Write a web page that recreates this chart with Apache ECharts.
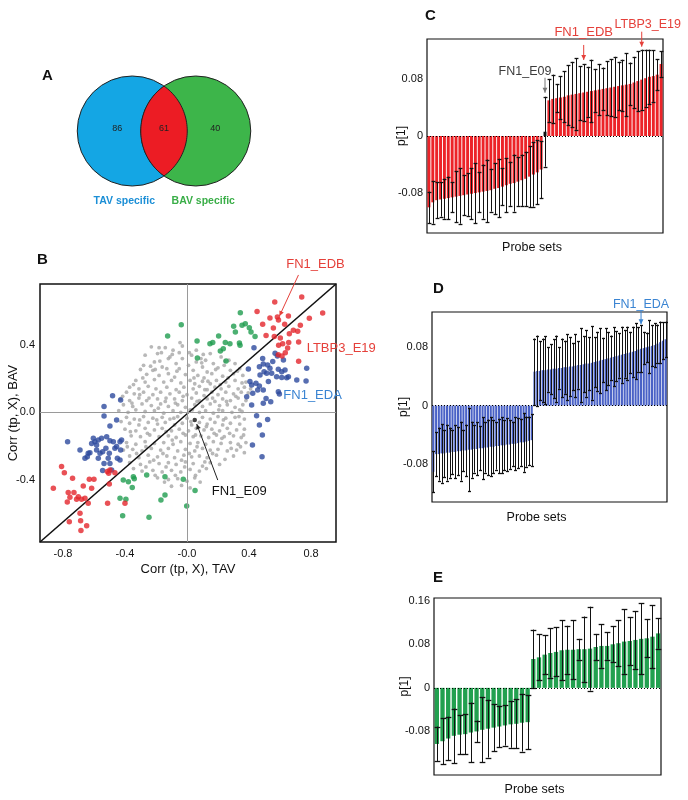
<!DOCTYPE html>
<html><head><meta charset="utf-8">
<script src="https://cdn.jsdelivr.net/npm/echarts@6/dist/echarts.min.js"></script>
<style>html,body{margin:0;padding:0;background:#fff}#c{width:688px;height:800px}</style>
</head><body><div id="c"></div><script>
// ---------------- DATA ----------------
const vennLabels = ['TAV specific', 'BAV specific'];
const vennCounts = [86, 61, 40]; // TAV only, shared, BAV only

const scatterGray = [
[-0.23,0.39],[-0.18,0.385],[-0.14,0.385],[-0.03,0.395],[0.06,0.37],[-0.09,0.37],
[-0.27,0.34],[-0.19,0.35],[-0.11,0.33],[-0.05,0.355],[0.03,0.34],[0.09,0.32],[0.15,0.35],[0.22,0.33],
[-0.12,0.32],[-0.03,0.32],[0.12,0.31],[0.27,0.31],
[-0.28,0.28],[-0.21,0.3],[-0.16,0.27],[-0.07,0.29],[0.01,0.28],[0.06,0.3],[0.1,0.27],[0.17,0.29],[0.24,0.28],[0.31,0.29],
[-0.3,0.255],[-0.22,0.25],[-0.13,0.26],[-0.05,0.26],[0.04,0.25],[0.13,0.24],[0.2,0.265],[0.28,0.25],[0.34,0.26],
[-0.26,0.226],[-0.18,0.22],[-0.12,0.23],[-0.08,0.21],[-0.01,0.225],[0.07,0.22],[0.11,0.205],[0.16,0.23],[0.23,0.215],[0.3,0.23],[0.36,0.22],
[-0.33,0.19],[-0.27,0.18],[-0.21,0.195],[-0.15,0.18],[-0.1,0.19],[-0.04,0.175],[0.02,0.19],[0.05,0.17],[0.1,0.185],[0.15,0.17],[0.19,0.19],[0.25,0.18],[0.31,0.19],[0.38,0.18],
[-0.37,0.15],[-0.31,0.14],[-0.25,0.155],[-0.2,0.14],[-0.13,0.15],[-0.07,0.135],[-0.02,0.15],[0.04,0.14],[0.08,0.155],[0.13,0.135],[0.18,0.15],[0.22,0.14],[0.27,0.155],[0.33,0.14],[0.37,0.15],[0.41,0.14],
[-0.39,0.12],[-0.34,0.11],[-0.28,0.12],[-0.22,0.105],[-0.17,0.12],[-0.11,0.11],[-0.05,0.12],[0.0,0.105],[0.06,0.115],[0.11,0.1],[0.16,0.12],[0.2,0.105],[0.25,0.12],[0.3,0.11],[0.35,0.12],
[-0.43,0.08],[-0.37,0.07],[-0.31,0.085],[-0.26,0.07],[-0.19,0.08],[-0.14,0.065],[-0.08,0.08],[-0.03,0.07],[0.03,0.085],[0.08,0.07],[0.13,0.08],[0.18,0.065],[0.23,0.08],[0.28,0.07],[0.33,0.085],[0.38,0.07],
[-0.41,0.045],[-0.35,0.035],[-0.29,0.05],[-0.23,0.04],[-0.17,0.05],[-0.12,0.035],[-0.06,0.045],[-0.01,0.03],[0.05,0.045],[0.1,0.035],[0.15,0.05],[0.21,0.04],[0.26,0.045],[0.31,0.03],[0.36,0.045],
[-0.44,0.01],[-0.38,0.0],[-0.33,0.015],[-0.27,0.005],[-0.21,0.01],[-0.15,-0.005],[-0.09,0.01],[-0.04,0.0],[0.02,0.015],[0.08,0.0],[0.12,0.01],[0.17,-0.005],[0.23,0.01],[0.29,0.0],[0.34,0.015],
[-0.39,-0.03],[-0.34,-0.04],[-0.28,-0.025],[-0.22,-0.035],[-0.16,-0.03],[-0.11,-0.04],[-0.06,-0.025],[0.0,-0.035],[0.1,-0.03],[0.15,-0.04],[0.2,-0.025],[0.25,-0.035],[0.31,-0.03],[0.37,-0.04],
[-0.37,-0.065],[-0.31,-0.075],[-0.25,-0.06],[-0.19,-0.07],[-0.14,-0.06],[-0.08,-0.075],[-0.03,-0.065],[0.03,-0.075],[0.08,-0.06],[0.13,-0.07],[0.18,-0.06],[0.23,-0.075],[0.28,-0.065],[0.34,-0.07],
[-0.4,-0.1],[-0.33,-0.11],[-0.27,-0.095],[-0.21,-0.105],[-0.16,-0.095],[-0.1,-0.11],[-0.05,-0.1],[0.01,-0.11],[0.06,-0.095],[0.11,-0.105],[0.16,-0.1],[0.21,-0.11],[0.26,-0.095],[0.32,-0.105],[0.37,-0.1],
[-0.36,-0.14],[-0.3,-0.145],[-0.24,-0.135],[-0.18,-0.145],[-0.12,-0.14],[-0.07,-0.15],[-0.01,-0.135],[0.04,-0.145],[0.09,-0.14],[0.14,-0.15],[0.19,-0.135],[0.24,-0.145],[0.3,-0.14],[0.35,-0.15],
[-0.39,-0.18],[-0.33,-0.19],[-0.27,-0.175],[-0.21,-0.185],[-0.15,-0.18],[-0.09,-0.19],[-0.04,-0.175],[0.02,-0.185],[0.07,-0.18],[0.12,-0.19],[0.17,-0.175],[0.22,-0.185],[0.28,-0.18],[0.33,-0.19],[0.38,-0.18],
[-0.41,-0.225],[-0.35,-0.22],[-0.29,-0.23],[-0.23,-0.215],[-0.17,-0.225],[-0.12,-0.215],[-0.06,-0.23],[-0.01,-0.22],[0.05,-0.23],[0.1,-0.215],[0.15,-0.225],[0.2,-0.22],[0.26,-0.23],[0.32,-0.225],[0.37,-0.24],
[-0.37,-0.26],[-0.31,-0.27],[-0.25,-0.255],[-0.19,-0.265],[-0.13,-0.26],[-0.08,-0.27],[-0.02,-0.255],[0.03,-0.265],[0.08,-0.26],[0.13,-0.27],[0.19,-0.255],[0.245,-0.28],[0.3,-0.26],
[-0.37,-0.3],[-0.3,-0.31],[-0.24,-0.295],[-0.18,-0.305],[-0.12,-0.3],[-0.07,-0.31],[-0.01,-0.295],[0.04,-0.305],[0.1,-0.32],[0.15,-0.3],[0.21,-0.31],
[-0.29,-0.35],[-0.22,-0.345],[-0.16,-0.355],[-0.1,-0.345],[-0.04,-0.355],[0.02,-0.34],[0.08,-0.35],
[-0.19,-0.39],[-0.12,-0.4],[-0.06,-0.395],[0.0,-0.41],[0.05,-0.39],
[-0.1,-0.44],[0.02,-0.45],
[-0.345,0.165],[-0.285,0.205],[-0.235,0.275],[-0.175,0.305],[-0.095,0.345],[-0.065,0.245],[0.015,0.355],[0.045,0.205],[0.095,0.295],[0.135,0.185],[0.185,0.255],[0.215,0.165],[0.265,0.205],[0.325,0.245],[0.355,0.175],[0.395,0.115],
[-0.415,0.095],[-0.355,0.055],[-0.305,0.105],[-0.245,0.085],[-0.185,0.025],[-0.135,0.085],[-0.075,0.055],[-0.025,0.095],[0.035,0.015],[0.065,0.065],[0.115,0.135],[0.165,0.085],[0.205,0.015],[0.255,0.065],[0.315,0.095],[0.355,0.005],
[-0.425,-0.055],[-0.365,-0.115],[-0.305,-0.045],[-0.255,-0.125],[-0.195,-0.045],[-0.135,-0.115],[-0.085,-0.035],[-0.025,-0.125],[0.025,-0.055],[0.055,-0.135],[0.125,-0.085],[0.175,-0.125],[0.235,-0.045],[0.275,-0.125],[0.335,-0.025],[0.365,-0.135],
[-0.385,-0.205],[-0.325,-0.245],[-0.265,-0.205],[-0.215,-0.285],[-0.155,-0.245],[-0.095,-0.165],[-0.035,-0.285],[0.015,-0.245],[0.065,-0.205],[0.115,-0.295],[0.165,-0.245],[0.225,-0.155],[0.285,-0.215],[0.345,-0.205],
[-0.345,-0.335],[-0.265,-0.325],[-0.205,-0.375],[-0.135,-0.325],[-0.075,-0.375],[-0.015,-0.325],[0.055,-0.375],[0.125,-0.335],[-0.145,-0.415],[-0.035,-0.435],[0.085,-0.415],
[-0.165,0.355],[-0.045,0.415],[0.105,0.345],[-0.205,0.255],[0.245,0.305]
];
const scatterBlue = [
[0.432,0.385],[0.488,0.321],[0.568,0.351],[0.583,0.335],[0.492,0.288],[0.52,0.282],[0.467,0.272],[0.535,0.262],
[0.589,0.256],[0.632,0.252],[0.654,0.212],[0.708,0.192],[0.768,0.187],[0.772,0.262],[0.578,0.212],[0.611,0.208],
[0.643,0.206],[0.396,0.258],[0.406,0.183],[0.445,0.173],[0.467,0.157],[0.492,0.133],[0.51,0.083],[0.54,0.063],
[0.589,0.123],[0.596,0.109],[0.417,0.044],[0.449,-0.02],[0.467,-0.075],[0.486,-0.135],[0.422,-0.194],[0.484,-0.264],
[0.52,-0.042],[0.385,0.093],[0.424,0.113],[0.456,0.133],[0.492,0.054],[0.514,0.232],[0.546,0.232],[0.471,0.222],
[0.553,0.302],[0.622,0.312],[0.497,0.242],[0.611,0.242],[0.525,0.183],[0.417,0.163],
[-0.48,0.099],[-0.535,0.034],[-0.535,-0.022],[-0.497,-0.081],[-0.454,-0.046],[-0.428,0.073],[-0.77,-0.175],[-0.69,-0.224],
[-0.637,-0.244],[-0.604,-0.155],[-0.594,-0.175],[-0.572,-0.165],[-0.551,-0.155],[-0.518,-0.145],[-0.497,-0.169],[-0.475,-0.175],
[-0.432,-0.175],[-0.422,-0.165],[-0.583,-0.194],[-0.583,-0.224],[-0.561,-0.244],[-0.572,-0.274],[-0.544,-0.234],[-0.523,-0.214],
[-0.501,-0.244],[-0.508,-0.274],[-0.497,-0.304],[-0.535,-0.304],[-0.544,-0.347],[-0.486,-0.343],[-0.449,-0.274],[-0.432,-0.284],
[-0.428,-0.224],[-0.465,-0.214],[-0.643,-0.264],[-0.626,-0.24],[-0.658,-0.274],[-0.615,-0.185],[-0.454,-0.204]
];
const scatterGreen = [
[-0.037,0.521],[-0.125,0.454],[0.065,0.425],[0.067,0.323],[0.148,0.409],[0.166,0.415],[0.204,0.454],[0.215,0.365],
[0.234,0.379],[0.252,0.306],[0.247,0.415],[0.277,0.409],[0.301,0.512],[0.312,0.478],[0.344,0.593],[0.355,0.518],
[0.376,0.528],[0.402,0.504],[0.413,0.478],[0.338,0.413],[0.342,0.399],[0.439,0.452],
[-0.411,-0.403],[-0.378,-0.413],[-0.346,-0.383],[-0.353,-0.448],[-0.34,-0.395],[-0.432,-0.512],[-0.394,-0.518],[-0.415,-0.615],
[-0.26,-0.373],[-0.245,-0.625],[-0.168,-0.522],[-0.142,-0.383],[-0.142,-0.492],[-0.024,-0.399],[-0.002,-0.558],[0.052,-0.466]
];
const scatterRed = [
[0.74,0.687],[0.566,0.657],[0.452,0.601],[0.875,0.591],[0.789,0.56],[0.654,0.573],[0.583,0.567],[0.535,0.562],
[0.59,0.55],[0.488,0.524],[0.63,0.524],[0.731,0.518],[0.686,0.488],[0.557,0.502],[0.714,0.482],[0.51,0.458],
[0.563,0.452],[0.66,0.468],[0.602,0.442],[0.617,0.409],[0.72,0.419],[0.656,0.415],[0.591,0.399],[0.649,0.383],
[0.589,0.343],[0.634,0.355],[0.72,0.304],[0.613,0.335],
[-0.809,-0.323],[-0.791,-0.359],[-0.738,-0.393],[-0.63,-0.399],[-0.6,-0.399],[-0.862,-0.452],[-0.669,-0.438],[-0.615,-0.452],
[-0.766,-0.478],[-0.729,-0.478],[-0.701,-0.502],[-0.755,-0.506],[-0.68,-0.518],[-0.658,-0.512],[-0.637,-0.542],[-0.772,-0.534],
[-0.69,-0.601],[-0.759,-0.651],[-0.686,-0.645],[-0.647,-0.675],[-0.684,-0.704],[-0.501,-0.427],[-0.512,-0.542],[-0.4,-0.542],
[-0.465,-0.359],[-0.514,-0.353],[-0.497,-0.343],[-0.505,-0.363],[-0.712,-0.518]
];
const scatterMarked = [[0.05, -0.046]]; // FN1_E09
const xTicksB = [-0.8, -0.4, 0, 0.4, 0.8];
const yTicksB = [-0.4, 0, 0.4];
const scatterNotes = [
  {name: 'FN1_EDB', at: [0.59, 0.55]},
  {name: 'LTBP3_E19', at: [0.72, 0.419]},
  {name: 'FN1_EDA', at: [0.589, 0.123]},
  {name: 'FN1_E09', at: [0.05, -0.046]}
];

const cValues = [-0.100,-0.093,-0.090,-0.089,-0.088,-0.087,-0.086,-0.085,-0.084,-0.083,
 -0.082,-0.081,-0.080,-0.079,-0.078,-0.077,-0.076,-0.074,-0.073,-0.071,
 -0.069,-0.067,-0.066,-0.064,-0.062,-0.060,-0.057,-0.054,-0.051,-0.047,
 0.006,
 0.050,0.052,0.053,0.054,0.055,0.057,0.058,0.059,0.060,0.061,
 0.062,0.063,0.064,0.065,0.066,0.067,0.068,0.069,0.070,0.071,
 0.072,0.073,0.075,0.077,0.079,0.081,0.083,0.084,0.086,0.101];
const cErr = [0.022,0.030,0.025,0.024,0.028,0.030,0.021,0.036,0.039,0.028,
 0.030,0.036,0.042,0.028,0.038,0.044,0.030,0.036,0.041,0.026,
 0.038,0.031,0.040,0.034,0.036,0.038,0.043,0.045,0.045,0.040,
 0.049,
 0.030,0.034,0.020,0.030,0.036,0.042,0.046,0.050,0.038,0.040,
 0.035,0.044,0.030,0.036,0.030,0.038,0.040,0.042,0.034,0.036,
 0.044,0.030,0.036,0.042,0.042,0.040,0.038,0.036,0.022,0.018];
const cNotes = [{name: 'FN1_E09', index: 30}, {name: 'FN1_EDB', index: 40}, {name: 'LTBP3_E19', index: 55}];

const dValues = [-0.090,-0.066,-0.066,-0.065,-0.065,-0.064,-0.064,-0.063,-0.063,-0.062,
 -0.062,-0.061,-0.061,-0.060,-0.060,-0.059,-0.059,-0.058,-0.058,-0.057,
 -0.057,-0.056,-0.056,-0.055,-0.055,-0.054,-0.054,-0.053,-0.053,-0.052,
 -0.052,-0.051,-0.050,-0.050,-0.049,-0.048,-0.047,
 0.046,0.047,0.047,0.048,0.048,0.049,0.049,0.050,0.050,0.051,
 0.051,0.052,0.052,0.053,0.053,0.054,0.055,0.055,0.056,0.057,
 0.057,0.058,0.059,0.060,0.061,0.062,0.063,0.064,0.065,0.066,
 0.067,0.068,0.069,0.070,0.071,0.072,0.073,0.074,0.076,0.077,
 0.078,0.079,0.080,0.081,0.082,0.084,0.086,0.088,0.090];
const dErr = [0.028,0.030,0.036,0.040,0.032,0.038,0.034,0.030,0.036,0.033,
 0.040,0.028,0.035,0.056,0.038,0.032,0.036,0.030,0.042,0.034,
 0.038,0.040,0.036,0.032,0.037,0.038,0.034,0.036,0.033,0.030,
 0.036,0.034,0.032,0.040,0.034,0.033,0.035,
 0.045,0.048,0.040,0.043,0.046,0.030,0.034,0.040,0.045,0.028,
 0.040,0.036,0.045,0.040,0.032,0.043,0.032,0.050,0.038,0.045,
 0.036,0.050,0.034,0.040,0.044,0.030,0.042,0.036,0.030,0.040,
 0.034,0.030,0.038,0.032,0.036,0.028,0.034,0.038,0.030,0.032,
 0.022,0.020,0.036,0.028,0.030,0.026,0.028,0.025,0.024];
const dNotes = [{name: 'FN1_EDA', index: 76}];

const eValues = [-0.103,-0.098,-0.093,-0.088,-0.086,-0.085,-0.082,-0.080,-0.077,-0.075,-0.073,-0.071,-0.069,-0.067,-0.066,-0.064,-0.063,
 0.053,0.056,0.061,0.064,0.066,0.069,0.070,0.070,0.071,0.071,0.072,0.075,0.077,0.077,0.080,0.082,0.085,0.086,0.088,0.090,0.091,0.094,0.100];
const eErr = [0.032,0.042,0.040,0.050,0.036,0.037,0.055,0.020,0.060,0.053,0.043,0.038,0.037,0.043,0.045,0.053,0.050,
 0.054,0.042,0.036,0.045,0.045,0.055,0.044,0.054,0.019,0.060,0.077,0.024,0.040,0.025,0.033,0.042,0.059,0.044,0.053,0.065,0.035,0.058,0.028];
const barTicks = [-0.08, 0, 0.08];
const eTicks = [-0.08, 0, 0.08, 0.16];

// ---------------- STYLE / LAYOUT ----------------
const FONT = '"Liberation Sans", Arial, sans-serif';
const COL = {
  vennBlue: '#14A6E4', vennGreen: '#3DB54A', vennRed: '#EC1C24',
  gray: '#A6A6A6', blue: '#2D4A9E', green: '#1F9C4F', red: '#E4262C',
  barRed: '#EC2328', barBlue: '#4A62C6', barGreen: '#22A04F',
  noteRed: '#E5403A', noteBlue: '#3A84D2', noteGray: '#3C3C3C'
};
const B_X = [-0.948, 0.961], B_Y = [-0.772, 0.764];

const chart = echarts.init(document.getElementById('c'), null, {renderer: 'canvas'});

function fmtBar(v) { return Math.abs(v) < 1e-9 ? '0' : v.toFixed(2); }

function barAxes(gi, n, ymin, ymax, ticks, nameGapX, nameGapY) {
  return {
    x: {type: 'category', gridIndex: gi, data: Array.from({length: n}, (_, i) => i + 1),
      axisLine: {show: false}, axisTick: {show: false}, axisLabel: {show: false}, splitLine: {show: false},
      name: 'Probe sets', nameLocation: 'middle', nameGap: nameGapX, nameMoveOverlap: false,
      nameTextStyle: {fontFamily: FONT, fontSize: 12.5, color: '#111', padding: [0, 26, 0, 0]}},
    y: {type: 'value', gridIndex: gi, min: ymin, max: ymax,
      axisLine: {show: false}, axisTick: {show: false}, splitLine: {show: false},
      axisLabel: {customValues: ticks, formatter: fmtBar, fontFamily: FONT, fontSize: 11, color: '#111', margin: 4},
      name: 'p[1]', nameLocation: 'middle', nameGap: nameGapY, nameMoveOverlap: false,
      nameTextStyle: {fontFamily: FONT, fontSize: 12, color: '#111'}}
  };
}

function barSeries(gi, values, color, special) {
  return {type: 'bar', xAxisIndex: gi, yAxisIndex: gi, barCategoryGap: '24%', silent: true,
    data: values.map((v, i) => (special && special[i]) ? {value: v, itemStyle: {color: special[i]}} : v),
    itemStyle: {color: color}, z: 2,
    markLine: {silent: true, symbol: 'none', label: {show: false},
      lineStyle: {color: '#000', width: 1.2, type: [1, 2]}, data: [{yAxis: 0}]}};
}

function errSeries(gi, values, errs, capMax) {
  return {type: 'custom', xAxisIndex: gi, yAxisIndex: gi, silent: true, z: 3,
    data: values.map((v, i) => [i, v - errs[i], v + errs[i]]),
    encode: {x: 0, y: [1, 2]},
    renderItem(params, api) {
      const i = api.value(0);
      const lo = api.coord([i, api.value(1)]);
      const hi = api.coord([i, api.value(2)]);
      const bw = api.size([1, 0])[0];
      const cap = Math.max(1.5, Math.min(bw * 0.5, capMax));
      const x = Math.round(lo[0]) + 0.5;
      const st = {stroke: '#111', lineWidth: 1};
      return {type: 'group', children: [
        {type: 'line', shape: {x1: x, y1: hi[1], x2: x, y2: lo[1]}, style: st},
        {type: 'line', shape: {x1: x - cap, y1: Math.round(hi[1]) + 0.5, x2: x + cap, y2: Math.round(hi[1]) + 0.5}, style: {stroke: '#111', lineWidth: 1.3}},
        {type: 'line', shape: {x1: x - cap, y1: Math.round(lo[1]) + 0.5, x2: x + cap, y2: Math.round(lo[1]) + 0.5}, style: {stroke: '#111', lineWidth: 1.3}}
      ]};
    }};
}

// annotation: anchor in data coords; pixel offsets given by layout
function noteSeries(gi, notes, layout) {
  return {type: 'custom', xAxisIndex: gi, yAxisIndex: gi, silent: true, z: 20, clip: false,
    data: notes.map((n, k) => [n.at[0], n.at[1], k]),
    encode: {x: 0, y: 1},
    renderItem(params, api) {
      const n = notes[api.value(2)];
      const L = layout[n.name];
      const p = api.coord([api.value(0), api.value(1)]);
      const ch = [];
      if (L.line) {
        const sx = p[0] + L.line[0], sy = p[1] + L.line[1], ex = p[0] + L.line[2], ey = p[1] + L.line[3];
        const lc = L.lineColor || L.color;
        ch.push({type: 'line', shape: {x1: sx, y1: sy, x2: ex, y2: ey}, style: {stroke: lc, lineWidth: 1}});
        const a = Math.atan2(sy - ey, sx - ex), hl = 5, hw = 2.4;
        ch.push({type: 'polygon', shape: {points: [[sx, sy],
          [sx - hl * Math.cos(a) + hw * Math.sin(a), sy - hl * Math.sin(a) - hw * Math.cos(a)],
          [sx - hl * Math.cos(a) - hw * Math.sin(a), sy - hl * Math.sin(a) + hw * Math.cos(a)]]},
          style: {fill: lc}});
      }
      ch.push({type: 'text', x: p[0] + L.tx, y: p[1] + L.ty,
        style: {text: n.name, fill: L.color, font: (L.size || 13) + 'px ' + FONT, align: L.align || 'center', verticalAlign: 'middle'}});
      return {type: 'group', children: ch};
    }};
}

const VENN = {r: 55, sep: 63.5};
function vennSeries() {
  return {type: 'custom', xAxisIndex: 0, yAxisIndex: 0, silent: true, z: 5,
    data: [[0.5, 0.5]], encode: {x: 0, y: 1},
    renderItem(params, api) {
      const c = api.coord([api.value(0), api.value(1)]);
      const r = VENN.r, h = VENN.sep / 2, cy = c[1];
      const lx = c[0] - h, rx = c[0] + h;
      const th = Math.acos(h / r);
      const pts = [];
      const N = 48;
      for (let k = 0; k <= N; k++) { const a = -th + 2 * th * k / N; pts.push([lx + r * Math.cos(a), cy + r * Math.sin(a)]); }
      for (let k = 0; k <= N; k++) { const a = Math.PI - th + 2 * th * k / N; pts.push([rx + r * Math.cos(a), cy + r * Math.sin(a)]); }
      const numFont = '9px ' + FONT, labFont = 'bold 10.5px ' + FONT;
      return {type: 'group', children: [
        {type: 'circle', shape: {cx: lx, cy: cy, r: r}, style: {fill: COL.vennBlue, stroke: '#222', lineWidth: 1}},
        {type: 'circle', shape: {cx: rx, cy: cy, r: r}, style: {fill: COL.vennGreen, stroke: '#222', lineWidth: 1}},
        {type: 'polygon', shape: {points: pts}, style: {fill: COL.vennRed, stroke: '#222', lineWidth: 1}},
        {type: 'text', x: lx - 15, y: cy - 2, style: {text: String(vennCounts[0]), font: numFont, fill: '#222', align: 'center', verticalAlign: 'middle'}},
        {type: 'text', x: c[0], y: cy - 2, style: {text: String(vennCounts[1]), font: numFont, fill: '#222', align: 'center', verticalAlign: 'middle'}},
        {type: 'text', x: rx + 19.5, y: cy - 2, style: {text: String(vennCounts[2]), font: numFont, fill: '#222', align: 'center', verticalAlign: 'middle'}},
        {type: 'text', x: lx - 8, y: cy + 70, style: {text: vennLabels[0], font: labFont, fill: '#1C8FD6', align: 'center', verticalAlign: 'middle'}},
        {type: 'text', x: rx + 7.5, y: cy + 70, style: {text: vennLabels[1], font: labFont, fill: '#3AAE48', align: 'center', verticalAlign: 'middle'}}
      ]};
    }};
}

const axC = barAxes(2, cValues.length, -0.136, 0.136, barTicks, 8, 19);
const axD = barAxes(3, dValues.length, -0.131, 0.127, barTicks, 9, 22);
const axE = barAxes(4, eValues.length, -0.160, 0.165, eTicks, 8, 23);

const cSpecial = {}; cSpecial[cNotes[0].index] = '#111';
const cNoteData = cNotes.map(n => ({name: n.name, at: [n.index, cValues[n.index] + cErr[n.index]]}));
const dNoteData = dNotes.map(n => ({name: n.name, at: [n.index, dValues[n.index] + dErr[n.index]]}));

const letter = (t, l, tp) => ({type: 'text', left: l, top: tp, style: {text: t, font: 'bold 15px ' + FONT, fill: '#111'}});

const option = {
  backgroundColor: '#fff',
  animation: false,
  grid: [
    {left: 60, top: 70, width: 208, height: 122, show: false},
    {left: 40, top: 284, width: 296, height: 258, show: true, borderColor: '#111', borderWidth: 1.5, backgroundColor: 'transparent'},
    {left: 427, top: 39, width: 236, height: 194, show: true, borderColor: '#111', borderWidth: 1.2},
    {left: 432, top: 312, width: 235, height: 190, show: true, borderColor: '#111', borderWidth: 1.2},
    {left: 434, top: 598, width: 227, height: 177, show: true, borderColor: '#111', borderWidth: 1.2}
  ],
  xAxis: [
    {type: 'value', gridIndex: 0, min: 0, max: 1, show: false},
    {type: 'value', gridIndex: 1, min: B_X[0], max: B_X[1],
      axisLine: {show: false}, axisTick: {show: false}, splitLine: {show: false},
      axisLabel: {customValues: xTicksB, formatter: v => Math.abs(v) < 1e-9 ? '-0.0' : v.toFixed(1), fontFamily: FONT, fontSize: 11, color: '#111', margin: 6},
      name: 'Corr (tp, X), TAV', nameLocation: 'middle', nameGap: 21,
      nameTextStyle: {fontFamily: FONT, fontSize: 13, color: '#111'}},
    axC.x, axD.x, axE.x
  ],
  yAxis: [
    {type: 'value', gridIndex: 0, min: 0, max: 1, show: false},
    {type: 'value', gridIndex: 1, min: B_Y[0], max: B_Y[1],
      axisLine: {show: false}, axisTick: {show: false}, splitLine: {show: false},
      axisLabel: {customValues: yTicksB, formatter: v => Math.abs(v) < 1e-9 ? '0.0' : v.toFixed(1), fontFamily: FONT, fontSize: 11, color: '#111', margin: 5},
      name: 'Corr (tp, X), BAV', nameLocation: 'middle', nameGap: 20, nameMoveOverlap: false,
      nameTextStyle: {fontFamily: FONT, fontSize: 13, color: '#111'}},
    axC.y, axD.y, axE.y
  ],
  series: [
    vennSeries(),
    {type: 'scatter', xAxisIndex: 1, yAxisIndex: 1, data: scatterGray, symbolSize: 3.8, silent: true,
      itemStyle: {color: COL.gray}, z: 2,
      markLine: {silent: true, symbol: 'none', label: {show: false}, lineStyle: {color: '#9a9a9a', width: 1, type: 'solid'},
        data: [{xAxis: 0}, {yAxis: 0}]}},
    {type: 'line', xAxisIndex: 1, yAxisIndex: 1, data: [[B_X[0], B_Y[0]], [B_X[1], B_Y[1]]], symbol: 'none', silent: true,
      lineStyle: {color: '#111', width: 1.6}, z: 3},
    {type: 'scatter', xAxisIndex: 1, yAxisIndex: 1, data: scatterBlue, symbolSize: 5.5, silent: true, itemStyle: {color: COL.blue}, z: 4},
    {type: 'scatter', xAxisIndex: 1, yAxisIndex: 1, data: scatterGreen, symbolSize: 5.5, silent: true, itemStyle: {color: COL.green}, z: 4},
    {type: 'scatter', xAxisIndex: 1, yAxisIndex: 1, data: scatterRed, symbolSize: 5.5, silent: true, itemStyle: {color: COL.red}, z: 4},
    {type: 'scatter', xAxisIndex: 1, yAxisIndex: 1, data: scatterMarked, symbolSize: 4.5, silent: true, itemStyle: {color: '#111'}, z: 5},
    noteSeries(1, scatterNotes, {
      'FN1_EDB': {color: COL.noteRed, lineColor: COL.noteRed, line: [1, -4, 20, -45], tx: 37, ty: -56},
      'LTBP3_E19': {color: COL.noteRed, tx: 8, ty: 6, align: 'left'},
      'FN1_EDA': {color: COL.noteBlue, tx: 5, ty: 4, align: 'left'},
      'FN1_E09': {color: '#111', lineColor: '#222', line: [2, 4, 23, 60], tx: 17, ty: 71, align: 'left'}
    }),
    barSeries(2, cValues, COL.barRed, cSpecial),
    errSeries(2, cValues, cErr, 2.2),
    noteSeries(2, cNoteData, {
      'FN1_E09': {color: COL.noteGray, lineColor: '#777', line: [0, -4, 0, -19], tx: -20, ty: -25, size: 12.5},
      'FN1_EDB': {color: COL.noteRed, line: [0, -4, 0, -19], tx: 0, ty: -32, size: 13},
      'LTBP3_E19': {color: COL.noteRed, line: [0, -3, 0, -18], tx: 6, ty: -25, size: 12.5}
    }),
    barSeries(3, dValues, COL.barBlue),
    errSeries(3, dValues, dErr, 2),
    noteSeries(3, dNoteData, {
      'FN1_EDA': {color: COL.noteBlue, line: [0, -1, 0, -15], tx: 0, ty: -21, size: 12.5}
    }),
    barSeries(4, eValues, COL.barGreen),
    errSeries(4, eValues, eErr, 3)
  ],
  graphic: [
    letter('A', 42, 68), letter('B', 37, 252), letter('C', 425, 8), letter('D', 433, 281), letter('E', 433, 570)
  ]
};
chart.setOption(option);
</script></body></html>
